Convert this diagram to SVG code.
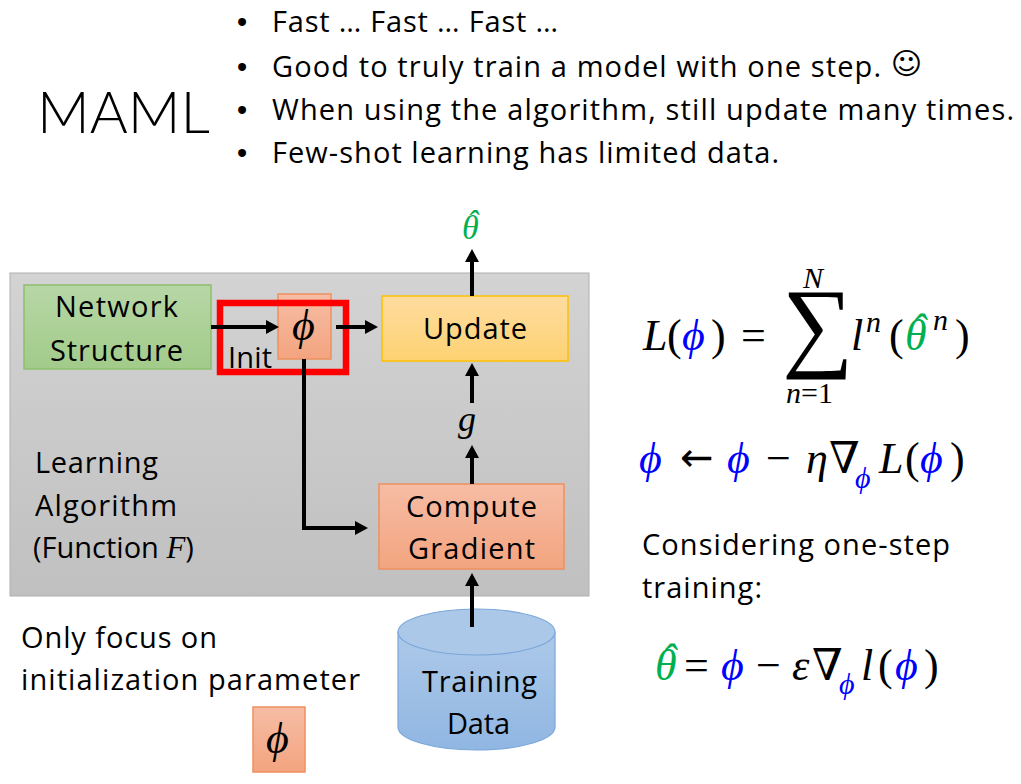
<svg xmlns="http://www.w3.org/2000/svg" width="1021" height="784" viewBox="0 0 1021 784">
<style>
.t{font-family:"Open Sans",Lato,sans-serif;font-size:29px;fill:#000}
.m{font-family:"Liberation Serif","DejaVu Serif",serif;font-style:italic;font-size:44px;fill:#000}
.u{font-style:normal}
.s{font-size:30px}
.b{fill:#0000ff}
.g{fill:#00b050}
.k{fill:#000}
.conn{fill:none;stroke:#000;stroke-width:4}
</style>
<defs>
<linearGradient id="gGray" x1="0" y1="0" x2="0" y2="1"><stop offset="0" stop-color="#d3d3d3"/><stop offset="1" stop-color="#c0c0c0"/></linearGradient>
<linearGradient id="gGreen" x1="0" y1="0" x2="0" y2="1"><stop offset="0" stop-color="#b7d7a6"/><stop offset="1" stop-color="#a2cb8a"/></linearGradient>
<linearGradient id="gSalmon" x1="0" y1="0" x2="0" y2="1"><stop offset="0" stop-color="#f6bda5"/><stop offset="1" stop-color="#f3a47f"/></linearGradient>
<linearGradient id="gYellow" x1="0" y1="0" x2="0" y2="1"><stop offset="0" stop-color="#fedca0"/><stop offset="1" stop-color="#fdd272"/></linearGradient>
<linearGradient id="gBlue" x1="0" y1="0" x2="0" y2="1"><stop offset="0" stop-color="#adc9e9"/><stop offset="1" stop-color="#90b6e2"/></linearGradient>
<marker id="ah" markerUnits="userSpaceOnUse" markerWidth="14" markerHeight="14" refX="2" refY="7" orient="auto"><path d="M0,0 L13,7 L0,14 z" fill="#000"/></marker>
</defs>

<g id="title">
<text x="37" y="133" style="font-family:Lato,sans-serif;font-weight:300;font-size:58px" textLength="173" lengthAdjust="spacingAndGlyphs">MAML</text>
</g>
<g id="bullets" class="t">
<text x="237" y="32" style="font-family:'Liberation Sans',sans-serif">•</text><text x="272" y="32" textLength="286">Fast … Fast … Fast …</text>
<text x="237" y="77" style="font-family:'Liberation Sans',sans-serif">•</text><text x="272" y="77" textLength="609">Good to truly train a model with one step.</text>
<text x="891" y="74" style="font-family:'DejaVu Sans',sans-serif;font-size:30px">☺</text>
<text x="237" y="120" style="font-family:'Liberation Sans',sans-serif">•</text><text x="272" y="120" textLength="742">When using the algorithm, still update many times.</text>
<text x="237" y="163" style="font-family:'Liberation Sans',sans-serif">•</text><text x="272" y="163" textLength="507">Few-shot learning has limited data.</text>
</g>

<g id="learning-algorithm">
<rect x="10" y="273" width="579" height="323" fill="url(#gGray)" stroke="#b0b0b0" stroke-width="1"/>
<text class="t" x="35" y="473" textLength="123">Learning</text>
<text class="t" x="35" y="516" textLength="142">Algorithm</text>
<text class="t" x="33" y="558">(Function <tspan style="font-family:'Liberation Serif',serif;font-style:italic;font-size:31px">F</tspan>)</text>
</g>

<g id="network-structure">
<rect x="24" y="285" width="187" height="84" fill="url(#gGreen)" stroke="#8dbf6e" stroke-width="1.5"/>
<text class="t" x="55" y="317" textLength="123">Network</text>
<text class="t" x="50" y="361" textLength="133">Structure</text>
</g>

<g id="init-label"><text class="t" x="228" y="368" textLength="44">Init</text></g>

<g id="phi-node">
<rect x="278" y="294" width="53" height="65" fill="url(#gSalmon)" stroke="#f0905f" stroke-width="1.5"/>
<text class="m" x="292" y="340">ϕ</text>
</g>

<g id="init-highlight">
<rect x="220" y="303" width="126" height="69" fill="none" stroke="#ff0000" stroke-width="6.5"/>
</g>

<g id="update">
<rect x="382" y="296" width="186" height="65" fill="url(#gYellow)" stroke="#ffc000" stroke-width="1.5"/>
<text class="t" x="423" y="339" textLength="104">Update</text>
</g>

<g id="compute-gradient">
<rect x="379" y="484" width="185" height="85" fill="url(#gSalmon)" stroke="#f0905f" stroke-width="1.5"/>
<text class="t" x="406" y="517" textLength="131">Compute</text>
<text class="t" x="408" y="559" textLength="127">Gradient</text>
</g>

<g id="training-data">
<path d="M398,632 L398,727 A78.5,23 0 0 0 555,727 L555,632" fill="url(#gBlue)" stroke="#7ba7da" stroke-width="1.2"/>
<ellipse cx="476.5" cy="632" rx="78.5" ry="23" fill="#abc8e8" stroke="#7ba7da" stroke-width="1.2"/>
<text class="t" x="422" y="692" textLength="115">Training</text>
<text class="t" x="447" y="734" textLength="63">Data</text>
</g>

<g id="labels">
<text class="m g" x="462" y="239" style="font-size:34px">θ<tspan dx="-12" dy="-5">ˆ</tspan></text>
<text class="m" x="458" y="431" style="font-size:36px">g</text>
</g>

<g id="connectors">
<path class="conn" d="M211,327 L268,327" marker-end="url(#ah)"/>
<path class="conn" d="M336,327 L367,327" marker-end="url(#ah)"/>
<path class="conn" d="M472,296 L472,260" marker-end="url(#ah)"/>
<path class="conn" d="M304,359 L304,528 L357,528" marker-end="url(#ah)"/>
<path class="conn" d="M472,484 L472,456" marker-end="url(#ah)"/>
<path class="conn" d="M472,403 L472,374" marker-end="url(#ah)"/>
<path class="conn" d="M472,627 L472,584" marker-end="url(#ah)"/>
</g>

<g id="caption">
<text class="t" x="21" y="648" textLength="196">Only focus on</text>
<text class="t" x="21" y="690" textLength="339">initialization parameter</text>
</g>

<g id="phi-legend">
<rect x="253" y="707" width="52" height="65" fill="url(#gSalmon)" stroke="#f0905f" stroke-width="1.5"/>
<text class="m" x="266" y="753">ϕ</text>
</g>

<g id="formulas">
<text class="m"><tspan x="643" y="350">L</tspan><tspan class="u" x="667">(</tspan><tspan class="b" x="682">ϕ</tspan><tspan class="u" x="711">)</tspan><tspan class="u" x="741">=</tspan><tspan class="u" x="782" y="358" style="font-size:100px">∑</tspan><tspan class="s" x="803" y="288">N</tspan><tspan class="s" x="786" y="403">n</tspan><tspan class="s u">=1</tspan><tspan x="851" y="350">l</tspan><tspan class="s" x="866" y="332">n</tspan><tspan class="u" x="889" y="350">(</tspan><tspan class="g" x="905">θ</tspan><tspan class="g" dx="-15.5" dy="-6">ˆ</tspan><tspan class="s" x="933" y="330">n</tspan><tspan class="u" x="955" y="350">)</tspan></text>

<text class="m" y="473"><tspan class="b" x="639">ϕ</tspan><tspan class="u" x="680" y="471" style="font-family:'DejaVu Sans',sans-serif;font-size:40px">←</tspan><tspan class="b" x="727" y="473">ϕ</tspan><tspan class="u" x="766">−</tspan><tspan x="806">η</tspan><tspan class="u" x="829">∇</tspan><tspan class="b s" x="855" y="488">ϕ</tspan><tspan x="879" y="473">L</tspan><tspan class="u" x="905">(</tspan><tspan class="b" x="920">ϕ</tspan><tspan class="u" x="950">)</tspan></text>

<text class="t" x="642" y="555" textLength="308">Considering one-step</text>
<text class="t" x="642" y="598" textLength="120">training:</text>

<text class="m" y="680"><tspan class="g" x="655">θ</tspan><tspan class="g" dx="-15.5" dy="-6">ˆ</tspan><tspan class="u" x="684" y="680">=</tspan><tspan class="b" x="721">ϕ</tspan><tspan class="u" x="756">−</tspan><tspan x="792">ε</tspan><tspan class="u" x="812">∇</tspan><tspan class="b s" x="839" y="694">ϕ</tspan><tspan x="861" y="680">l</tspan><tspan class="u" x="878">(</tspan><tspan class="b" x="895">ϕ</tspan><tspan class="u" x="924">)</tspan></text>
</g>
</svg>
